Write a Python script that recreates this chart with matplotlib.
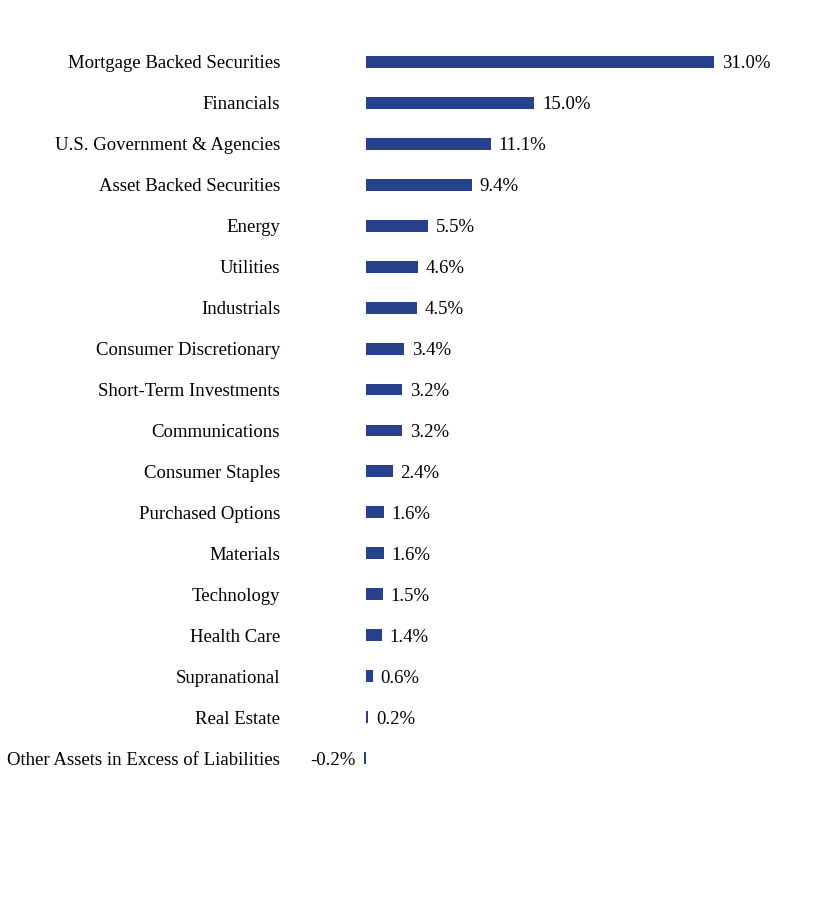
import numpy as np
import matplotlib.pyplot as plt

plt.rcParams['font.family'] = ['Liberation Serif', 'DejaVu Serif']

sectors = ["Mortgage Backed Securities", "Financials", "U.S. Government & Agencies",
           "Asset Backed Securities", "Energy", "Utilities", "Industrials",
           "Consumer Discretionary", "Short-Term Investments", "Communications",
           "Consumer Staples", "Purchased Options", "Materials", "Technology",
           "Health Care", "Supranational", "Real Estate",
           "Other Assets in Excess of Liabilities"]
weights = [31.0, 15.0, 11.1, 9.4, 5.5, 4.6, 4.5, 3.4, 3.2, 3.2, 2.4, 1.6, 1.6, 1.5, 1.4, 0.6, 0.2, -0.2]

bar_color = "#27418d"

fig = plt.figure(figsize=(8.16, 9), dpi=100)
ax = fig.add_axes([300/816, 120/900, 500/816, 740/900])

y = np.arange(len(sectors))
ax.barh(y, weights, height=0.29, color=bar_color)

for yi, w in zip(y, weights):
    if w >= 0:
        ax.annotate("%.1f%%" % w, (w, yi), xytext=(5.5, 0), textcoords="offset points",
                    ha="left", va="center_baseline", fontsize=13.5)
    else:
        ax.annotate("%.1f%%" % w, (w, yi), xytext=(-6, 0), textcoords="offset points",
                    ha="right", va="center_baseline", fontsize=13.5)

ax.set_xlim(-5.88, 38.65)
ax.set_ylim(17.537, -0.537)
ax.set_yticks(y)
ax.set_yticklabels(sectors, fontsize=13.5, va="center_baseline")
ax.tick_params(axis="y", length=0, pad=14.4)
ax.set_xticks([])
for s in ax.spines.values():
    s.set_visible(False)

fig.savefig("out.png", dpi=100)
